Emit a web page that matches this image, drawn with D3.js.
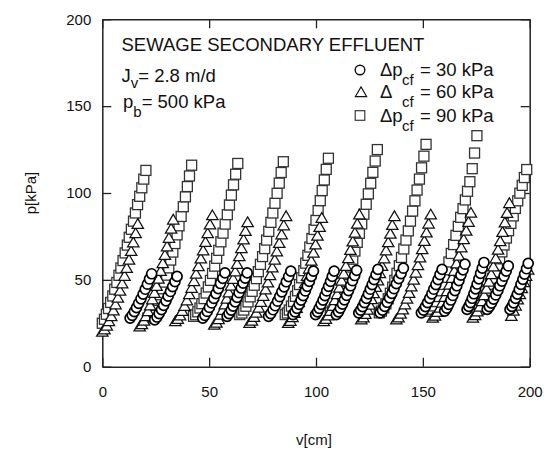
<!DOCTYPE html>
<html>
<head>
<meta charset="utf-8">
<script src="https://cdn.jsdelivr.net/npm/d3@7"></script>
<style>
  body { margin: 0; background: #fff; }
  text { font-family: Arial, "Liberation Sans", sans-serif; fill: #111; }
</style>
</head>
<body>
<div id="chart"></div>
<script>
// =========================
// DATA (one object per filtration cycle)
// v = filtrate volume [cm], p = pressure [kPa]
// =========================
const xTicks = [0, 50, 100, 150, 200];
const yTicks = [0, 50, 100, 150, 200];

// Δp_cf = 90 kPa (squares)
const squares90 = [
  { v: [0, 1.0, 1.9, 2.9, 3.9, 4.9, 5.8, 6.8, 7.8, 8.7, 9.7, 10.7, 11.7, 12.6, 13.6, 14.6, 15.5, 16.5, 17.5, 18.5, 19.4, 20.4],
    p: [25, 27.3, 30.2, 33.5, 37, 40.7, 44.6, 48.5, 52.6, 56.8, 61.1, 65.5, 70, 74.5, 79.1, 83.8, 88.5, 93.3, 98.1, 103, 108, 113] },
  { v: [21.3, 22.3, 23.3, 24.2, 25.2, 26.2, 27.2, 28.1, 29.1, 30.1, 31.1, 32.0, 33.0, 34.0, 35.0, 35.9, 36.9, 37.9, 38.9, 39.8, 40.8, 41.8],
    p: [28, 28.9, 30.6, 32.8, 35.3, 38.2, 41.4, 44.9, 48.7, 52.7, 56.9, 61.4, 66.0, 70.9, 75.9, 81.1, 86.5, 92.1, 97.8, 103.7, 109.8, 116] },
  { v: [42.7, 43.7, 44.7, 45.7, 46.6, 47.6, 48.6, 49.6, 50.6, 51.6, 52.6, 53.5, 54.5, 55.5, 56.5, 57.5, 58.5, 59.5, 60.4, 61.4, 62.4, 63.4],
    p: [29, 29.9, 31.6, 33.8, 36.3, 39.2, 42.4, 45.9, 49.7, 53.7, 57.9, 62.4, 67.0, 71.9, 76.9, 82.1, 87.5, 93.1, 98.8, 104.7, 110.8, 117] },
  { v: [64.3, 65.3, 66.2, 67.2, 68.2, 69.2, 70.1, 71.1, 72.1, 73.0, 74.0, 75.0, 76.0, 76.9, 77.9, 78.9, 79.8, 80.8, 81.8, 82.8, 83.7, 84.7],
    p: [30, 30.9, 32.6, 34.8, 37.3, 40.2, 43.4, 46.9, 50.7, 54.7, 58.9, 63.4, 68.0, 72.9, 77.9, 83.1, 88.5, 94.1, 99.8, 105.7, 111.8, 118] },
  { v: [85.6, 86.6, 87.5, 88.5, 89.5, 90.4, 91.4, 92.3, 93.3, 94.3, 95.2, 96.2, 97.1, 98.1, 99.1, 100.0, 101.0, 102.0, 102.9, 103.9, 104.8, 105.8],
    p: [30, 30.9, 32.6, 34.9, 37.5, 40.5, 43.7, 47.3, 51.2, 55.3, 59.6, 64.1, 68.9, 73.8, 79.0, 84.3, 89.9, 95.6, 101.4, 107.5, 113.6, 120] },
  { v: [106.7, 107.8, 108.8, 109.8, 110.9, 111.9, 113.0, 114.0, 115.1, 116.1, 117.2, 118.2, 119.3, 120.3, 121.4, 122.4, 123.5, 124.5, 125.6, 126.6, 127.7, 128.7],
    p: [31, 32.0, 33.8, 36.1, 38.8, 41.9, 45.4, 49.1, 53.1, 57.4, 61.9, 66.6, 71.6, 76.8, 82.2, 87.8, 93.5, 99.5, 105.6, 111.9, 118.4, 125] },
  { v: [129.6, 130.6, 131.7, 132.7, 133.8, 134.8, 135.9, 136.9, 137.9, 139.0, 140.0, 141.1, 142.1, 143.2, 144.2, 145.2, 146.3, 147.3, 148.4, 149.4, 150.5, 151.5],
    p: [31, 32.0, 33.9, 36.2, 39.1, 42.3, 45.8, 49.7, 53.8, 58.2, 62.9, 67.8, 72.9, 78.2, 83.8, 89.6, 95.5, 101.7, 108.0, 114.5, 121.2, 128] },
  { v: [152.4, 153.5, 154.6, 155.7, 156.8, 157.9, 158.9, 160.0, 161.1, 162.2, 163.3, 164.4, 165.5, 166.6, 167.7, 168.8, 169.9, 170.9, 172.0, 173.1, 174.2, 175.3],
    p: [32, 33.1, 35.0, 37.5, 40.4, 43.7, 47.4, 51.4, 55.8, 60.3, 65.2, 70.3, 75.6, 80.8, 86.0, 91.0, 96.0, 101.0, 106.5, 114.0, 123.0, 133] },
  { v: [176.4, 177.5, 178.5, 179.6, 180.6, 181.7, 182.7, 183.8, 184.9, 185.9, 187.0, 188.0, 189.1, 190.1, 191.2, 192.3, 193.3, 194.4, 195.4, 196.5, 197.5, 198.6],
    p: [33, 35.1, 37.8, 40.8, 44.0, 47.4, 50.9, 54.5, 58.3, 62.1, 66.1, 70.1, 74.1, 78.3, 82.5, 86.8, 91.1, 95.5, 99.9, 104.4, 108.9, 113.5] }
];

// Δp_cf = 60 kPa (triangles)
const triangles60 = [
  { v: [0, 1.0, 2.1, 3.1, 4.2, 5.2, 6.2, 7.3, 8.3, 9.3, 10.4, 11.4, 12.5, 13.5, 14.5, 15.6, 16.6],
    p: [20, 21.3, 23.4, 26.0, 28.9, 32.2, 35.7, 39.5, 43.5, 47.7, 52.1, 56.7, 61.4, 66.4, 71.4, 76.6, 82] },
  { v: [17.5, 18.5, 19.5, 20.4, 21.4, 22.4, 23.4, 24.4, 25.4, 26.3, 27.3, 28.3, 29.3, 30.3, 31.2, 32.2, 33.2],
    p: [23, 24.3, 26.3, 28.9, 31.8, 35.1, 38.6, 42.3, 46.3, 50.5, 54.9, 59.4, 64.1, 69.0, 74.0, 79.2, 84.5] },
  { v: [34.2, 35.3, 36.4, 37.4, 38.5, 39.6, 40.7, 41.8, 42.9, 43.9, 45.0, 46.1, 47.2, 48.3, 49.3, 50.4, 51.5],
    p: [26, 27.3, 29.3, 31.9, 34.8, 38.0, 41.5, 45.2, 49.1, 53.3, 57.6, 62.1, 66.8, 71.6, 76.6, 81.7, 87] },
  { v: [52.4, 53.4, 54.4, 55.3, 56.3, 57.3, 58.3, 59.2, 60.2, 61.2, 62.2, 63.1, 64.1, 65.1, 66.1, 67.0, 68.0],
    p: [24, 25.2, 27.2, 29.7, 32.5, 35.6, 39.0, 42.5, 46.4, 50.4, 54.6, 58.9, 63.4, 68.1, 73.0, 77.9, 83] },
  { v: [68.9, 70.0, 71.0, 72.1, 73.2, 74.2, 75.3, 76.4, 77.5, 78.5, 79.6, 80.7, 81.7, 82.8, 83.9, 84.9, 86.0],
    p: [25, 26.3, 28.4, 30.9, 33.8, 37.1, 40.6, 44.3, 48.3, 52.5, 56.9, 61.4, 66.1, 71.0, 76.0, 81.2, 86.5] },
  { v: [87.0, 88.0, 89.0, 89.9, 90.9, 91.9, 92.9, 93.9, 94.9, 95.8, 96.8, 97.8, 98.8, 99.8, 100.7, 101.7, 102.7],
    p: [25, 26.2, 28.3, 30.8, 33.7, 36.9, 40.3, 44.0, 47.9, 52.0, 56.3, 60.8, 65.4, 70.2, 75.2, 80.3, 85.5] },
  { v: [103.6, 104.6, 105.7, 106.7, 107.8, 108.8, 109.9, 110.9, 112.0, 113.0, 114.0, 115.1, 116.1, 117.2, 118.2, 119.3, 120.3],
    p: [26, 27.3, 29.3, 31.9, 34.8, 38.1, 41.6, 45.3, 49.3, 53.4, 57.8, 62.3, 67.0, 71.9, 76.9, 82.1, 87.4] },
  { v: [121.2, 122.2, 123.1, 124.1, 125.1, 126.0, 127.0, 128.0, 129.0, 129.9, 130.9, 131.9, 132.8, 133.8, 134.8, 135.7, 136.7],
    p: [27, 28.2, 30.2, 32.7, 35.5, 38.7, 42.1, 45.7, 49.5, 53.6, 57.8, 62.2, 66.8, 71.5, 76.4, 81.4, 86.5] },
  { v: [137.6, 138.6, 139.6, 140.6, 141.6, 142.6, 143.6, 144.6, 145.7, 146.7, 147.7, 148.7, 149.7, 150.7, 151.7, 152.7, 153.7],
    p: [27, 28.2, 30.3, 32.8, 35.7, 38.9, 42.3, 46.0, 49.9, 54.0, 58.3, 62.7, 67.4, 72.2, 77.1, 82.2, 87.4] },
  { v: [154.6, 155.7, 156.8, 158.0, 159.1, 160.2, 161.3, 162.4, 163.6, 164.7, 165.8, 166.9, 168.0, 169.1, 170.3, 171.4, 172.5],
    p: [28, 29.2, 31.3, 33.8, 36.7, 39.9, 43.3, 47.0, 50.9, 55.0, 59.3, 63.7, 68.4, 73.2, 78.1, 83.2, 88.4] },
  { v: [173.4, 174.5, 175.5, 176.6, 177.7, 178.7, 179.8, 180.9, 182.0, 183.0, 184.1, 185.2, 186.2, 187.3, 188.4, 189.4, 190.5],
    p: [28, 29.4, 31.6, 34.3, 37.5, 41.0, 44.7, 48.7, 53.0, 57.5, 62.2, 67.1, 72.1, 77.4, 82.8, 88.3, 94] },
  { v: [191.4, 192.4, 193.4, 194.4, 195.4, 196.3, 197.3, 198.3, 199.3],
    p: [29, 32, 35, 38.5, 41.5, 45, 48.5, 52, 55.7] }
];

// Δp_cf = 30 kPa (circles)
const circles30 = [
  { v: [13.0, 14.0, 15.0, 16.0, 17.0, 18.1, 19.1, 20.1, 21.1, 22.1, 23.1],
    p: [28, 29.6, 31.7, 34.0, 36.5, 39.1, 41.8, 44.6, 47.5, 50.5, 53.5] },
  { v: [24.5, 25.6, 26.6, 27.7, 28.7, 29.8, 30.8, 31.9, 32.9, 34.0, 35.0],
    p: [27, 28.6, 30.6, 32.9, 35.3, 37.9, 40.6, 43.3, 46.1, 49.0, 52] },
  { v: [47.0, 48.0, 49.1, 50.1, 51.2, 52.2, 53.2, 54.3, 55.3, 56.4, 57.4],
    p: [28, 29.6, 31.8, 34.1, 36.7, 39.3, 42.1, 45.0, 47.9, 50.9, 54] },
  { v: [58.4, 59.3, 60.3, 61.2, 62.2, 63.1, 64.0, 65.0, 65.9, 66.9, 67.8],
    p: [29, 30.6, 32.6, 34.9, 37.3, 39.9, 42.6, 45.3, 48.1, 51.0, 54] },
  { v: [77.8, 78.8, 79.9, 80.9, 82.0, 83.0, 84.0, 85.1, 86.1, 87.2, 88.2],
    p: [29, 30.6, 32.8, 35.1, 37.7, 40.3, 43.1, 46.0, 48.9, 51.9, 55] },
  { v: [89.2, 90.2, 91.1, 92.1, 93.0, 94.0, 95.0, 95.9, 96.9, 97.8, 98.8],
    p: [30, 31.6, 33.6, 35.9, 38.3, 40.9, 43.6, 46.3, 49.1, 52.0, 55] },
  { v: [99.8, 100.7, 101.5, 102.4, 103.3, 104.2, 105.0, 105.9, 106.8, 107.6, 108.5],
    p: [30, 31.6, 33.6, 35.9, 38.3, 40.9, 43.6, 46.3, 49.1, 52.0, 55] },
  { v: [109.5, 110.5, 111.4, 112.4, 113.3, 114.3, 115.2, 116.2, 117.1, 118.1, 119.0],
    p: [30, 31.6, 33.7, 36.0, 38.5, 41.1, 43.8, 46.6, 49.5, 52.5, 55.5] },
  { v: [120.0, 120.9, 121.8, 122.7, 123.6, 124.5, 125.4, 126.3, 127.2, 128.1, 129.0],
    p: [31, 32.6, 34.6, 36.9, 39.3, 41.9, 44.6, 47.3, 50.1, 53.0, 56] },
  { v: [130.0, 131.1, 132.2, 133.3, 134.4, 135.5, 136.5, 137.6, 138.7, 139.8, 140.9],
    p: [31, 32.6, 34.7, 37.1, 39.6, 42.2, 44.9, 47.8, 50.7, 53.6, 56.7] },
  { v: [149.3, 150.3, 151.2, 152.2, 153.2, 154.2, 155.1, 156.1, 157.1, 158.0, 159.0],
    p: [31, 32.6, 34.6, 36.9, 39.3, 41.9, 44.6, 47.3, 50.1, 53.0, 56] },
  { v: [160.2, 161.2, 162.1, 163.1, 164.0, 165.0, 165.9, 166.9, 167.8, 168.8, 169.7],
    p: [32, 33.7, 35.9, 38.4, 41.0, 43.8, 46.6, 49.6, 52.7, 55.8, 59] },
  { v: [170.7, 171.5, 172.3, 173.1, 173.9, 174.7, 175.4, 176.2, 177.0, 177.8, 178.6],
    p: [33, 34.7, 36.9, 39.4, 42.0, 44.8, 47.6, 50.6, 53.7, 56.8, 60] },
  { v: [180.1, 181.1, 182.1, 183.1, 184.1, 185.1, 186.0, 187.0, 188.0, 189.0, 190.0],
    p: [33, 34.6, 36.6, 38.9, 41.3, 43.9, 46.6, 49.3, 52.1, 55.0, 58] },
  { v: [190.8, 191.7, 192.5, 193.4, 194.2, 195.1, 195.9, 196.8, 197.6, 198.5, 199.3],
    p: [33, 34.7, 36.8, 39.3, 41.8, 44.5, 47.4, 50.3, 53.3, 56.4, 59.5] }
];

// flatten cycles into points
const flatten = cycles => cycles.flatMap(c => c.v.map((v, i) => ({ v, p: c.p[i] })));

// =========================
// SETUP
// =========================
const width = 544, height = 457;

const svg = d3.select("#chart")
    .append("svg")
    .attr("width", width)
    .attr("height", height);

const x = d3.scaleLinear().domain([0, 200]).range([102.3, 529.7]);
const y = d3.scaleLinear().domain([0, 200]).range([366.7, 19.3]);

// =========================
// AXES (ticks inward on all four sides)
// =========================
const axisStyle = g => {
    g.select(".domain").attr("stroke", "#222").attr("stroke-width", 1.5);
    g.selectAll(".tick line").attr("stroke", "#222").attr("stroke-width", 1.3);
    g.selectAll(".tick text").style("font-size", "15px").attr("fill", "#111");
};

svg.append("g")
    .attr("transform", `translate(0,${y(0)})`)
    .call(d3.axisBottom(x).tickValues(xTicks).tickSize(-9).tickSizeOuter(0).tickPadding(20))
    .call(axisStyle);

svg.append("g")
    .attr("transform", `translate(${x(0)},0)`)
    .call(d3.axisLeft(y).tickValues(yTicks).tickSize(-9).tickSizeOuter(0).tickPadding(11))
    .call(axisStyle);

svg.append("g")
    .attr("transform", `translate(0,${y(200)})`)
    .call(d3.axisTop(x).tickValues(xTicks).tickSize(-9).tickSizeOuter(0).tickFormat(""))
    .call(axisStyle);

svg.append("g")
    .attr("transform", `translate(${x(200)},0)`)
    .call(d3.axisRight(y).tickValues(yTicks).tickSize(-9).tickSizeOuter(0).tickFormat(""))
    .call(axisStyle);

// axis titles
svg.append("text")
    .attr("transform", `translate(36,${(y(0) + y(200)) / 2}) rotate(-90)`)
    .attr("text-anchor", "middle")
    .style("font-size", "15px")
    .text("p[kPa]");

svg.append("text")
    .attr("x", (x(0) + x(200)) / 2 - 2)
    .attr("y", 445)
    .attr("text-anchor", "middle")
    .style("font-size", "15px")
    .text("v[cm]");

// =========================
// MARKERS
// =========================
const triPath = "M0,-5.6L5.7,4.1L-5.7,4.1Z";

svg.append("g")
    .selectAll("rect")
    .data(flatten(squares90))
    .join("rect")
    .attr("x", d => x(d.v) - 5)
    .attr("y", d => y(d.p) - 5)
    .attr("width", 10)
    .attr("height", 10)
    .attr("fill", "#fff")
    .attr("stroke", "#333")
    .attr("stroke-width", 1.3);

svg.append("g")
    .selectAll("path")
    .data(flatten(triangles60))
    .join("path")
    .attr("transform", d => `translate(${x(d.v)},${y(d.p)})`)
    .attr("d", triPath)
    .attr("fill", "#fff")
    .attr("stroke", "#111")
    .attr("stroke-width", 1.25);

svg.append("g")
    .selectAll("circle")
    .data(flatten(circles30))
    .join("circle")
    .attr("cx", d => x(d.v))
    .attr("cy", d => y(d.p))
    .attr("r", 5)
    .attr("fill", "#fff")
    .attr("stroke", "#000")
    .attr("stroke-width", 1.7);

// =========================
// ANNOTATIONS
// =========================
const big = "18.5px";

svg.append("text")
    .attr("x", 121.5).attr("y", 51)
    .style("font-size", big)
    .text("SEWAGE SECONDARY EFFLUENT");

const jv = svg.append("text").attr("x", 121.5).attr("y", 82).style("font-size", big);
jv.append("tspan").text("J");
jv.append("tspan").attr("dy", 6).style("font-size", "15px").text("v");
jv.append("tspan").attr("dy", -6).text("= 2.8 m/d");

const pb = svg.append("text").attr("x", 123).attr("y", 107.5).style("font-size", big);
pb.append("tspan").text("p");
pb.append("tspan").attr("dy", 9).style("font-size", "15px").text("b");
pb.append("tspan").attr("dy", -9).text("= 500 kPa");

// legend
const legendRows = [
    { shape: "circle", base: 76, lead: "Δp", value: "= 30 kPa" },
    { shape: "triangle", base: 98, lead: "Δ", value: "= 60 kPa" },
    { shape: "square", base: 121.5, lead: "Δp", value: "= 90 kPa" }
];

legendRows.forEach(r => {
    const cy = r.base - 6;
    if (r.shape === "circle") {
        svg.append("circle").attr("cx", 360).attr("cy", cy).attr("r", 4.8)
            .attr("fill", "#fff").attr("stroke", "#111").attr("stroke-width", 1.4);
    } else if (r.shape === "triangle") {
        svg.append("path").attr("transform", `translate(361,${cy + 0.5})`).attr("d", triPath)
            .attr("fill", "#fff").attr("stroke", "#111").attr("stroke-width", 1.1);
    } else {
        svg.append("rect").attr("x", 355.2).attr("y", cy - 4.8).attr("width", 9.6).attr("height", 9.6)
            .attr("fill", "#fff").attr("stroke", "#3a3a3a").attr("stroke-width", 1.2);
    }
    svg.append("text").attr("x", 380).attr("y", r.base).style("font-size", big).text(r.lead);
    svg.append("text").attr("x", 402).attr("y", r.base + 9).style("font-size", "15px").text("cf");
    svg.append("text").attr("x", 420).attr("y", r.base).style("font-size", big).text(r.value);
});
</script>
</body>
</html>
